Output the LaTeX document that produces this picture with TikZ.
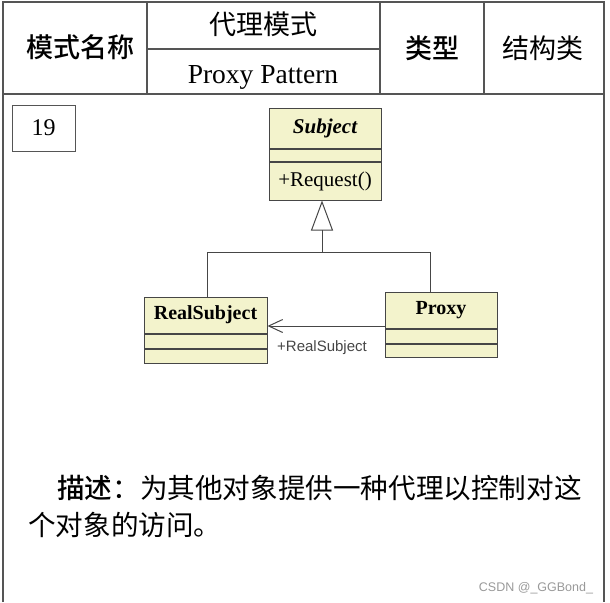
\documentclass[tikz,border=0pt]{standalone}
\usepackage{fontspec}
\setmainfont{Liberation Serif}
\setsansfont{Liberation Sans}
\newfontfamily\cjk{Noto Sans CJK SC}
\newfontfamily\cjkmid{Noto Sans CJK SC Medium}
\usepackage{xcolor}
\usetikzlibrary{shapes,arrows,arrows.meta}
\definecolor{umlfill}{RGB}{243,243,204}
\definecolor{umlline}{RGB}{70,70,70}
\definecolor{frameline}{RGB}{85,85,85}
\tikzstyle{cell} = [font=\cjk\fontsize{27}{32}\selectfont, inner sep=0pt]
\tikzstyle{cellbold} = [font=\cjkmid\fontsize{27}{32}\selectfont, inner sep=0pt]
\tikzstyle{classbox} = [draw=umlline, fill=umlfill, line width=1pt, inner sep=0pt,
text centered, font=\bfseries\fontsize{20}{24}\selectfont]
\tikzstyle{slot} = [draw=umlline, fill=umlfill, line width=1pt, inner sep=0pt,
anchor=north, font=\fontsize{21}{25}\selectfont]
\tikzstyle{line} = [draw=umlline, line width=1pt]
\tikzstyle{frame} = [draw=frameline, line width=1.5pt]

\begin{document}
\begin{tikzpicture}[x=1pt, y=-1pt]
\useasboundingbox (0,0) rectangle (610,602);

% Place frame
\draw [frame] (3,602) -- (3,2) -- (604,2) -- (604,602);
\draw [frame] (3,94) -- (604,94);
\draw [frame] (147,2) -- (147,94);
\draw [frame] (380,2) -- (380,94);
\draw [frame] (484,2) -- (484,94);
\draw [frame] (147,49) -- (380,49);

% Place header texts
\node [cellbold] (kind) at (81,47) {模式名称};
\node [cell] (cnname) at (263,24) {代理模式};
\node [cell, font=\fontsize{27.5}{32}\selectfont, anchor=base] (enname) at (263,83) {Proxy Pattern};
\node [cellbold] (typelbl) at (432,48) {类型};
\node [cell] (typeval) at (543,48) {结构类};
\node [draw=frameline, line width=1pt, minimum width=63pt, minimum height=46pt,
font=\fontsize{24}{28}\selectfont] (num) at (43.5,128) {19};

% Place nodes
\node [classbox, font=\bfseries\itshape\fontsize{21}{24}\selectfont, minimum width=112pt,
minimum height=40pt] (subject) at (325,128) {Subject};
\node [slot, minimum width=112pt, minimum height=12pt] (subject-a) at (subject.south) {};
\node [slot, minimum width=112pt, minimum height=38pt] (subject-m) at (subject-a.south) {+Request()};

\node [classbox, minimum width=123pt, minimum height=36pt] (real) at (205.5,315) {RealSubject};
\node [slot, minimum width=123pt, minimum height=14pt] (real-a) at (real.south) {};
\node [slot, minimum width=123pt, minimum height=14pt] (real-m) at (real-a.south) {};

\node [classbox, minimum width=112pt, minimum height=36pt] (proxy) at (441,310) {Proxy};
\node [slot, minimum width=112pt, minimum height=14pt] (proxy-a) at (proxy.south) {};
\node [slot, minimum width=112pt, minimum height=13pt] (proxy-m) at (proxy-a.south) {};

\node [font=\sffamily\fontsize{15}{18}\selectfont, text=umlline, inner sep=0pt] (role) at (322,348) {+RealSubject};

% Place description
\node [anchor=base west, align=left, inner sep=0pt, font=\cjk\fontsize{27.6}{37}\selectfont]
(desc) at (28,535) {\hspace*{29pt}{\cjkmid 描述}：为其他对象提供一种代理以控制对这\\个对象的访问。};
\node [font=\sffamily\fontsize{12.5}{15}\selectfont, text=gray!80, inner sep=0pt] (mark) at (536,588) {CSDN @\_GGBond\_};

% Place lines
\coordinate (hub) at (322,252);
\coordinate (lknee) at (207,252);
\coordinate (rknee) at (430,252);
\coordinate (link) at (0,326);
\draw [line, -{Triangle[open, width=22pt, length=30pt]}] (hub) -- (subject-m.south -| hub);
\draw [line] (real.north -| lknee) -- (lknee) -- (rknee) -- (proxy.north -| rknee);
\draw [line, -{Straight Barb[length=14pt, width=13pt]}] (proxy.west |- link) -- (real.east |- link);

\end{tikzpicture}
\end{document}
